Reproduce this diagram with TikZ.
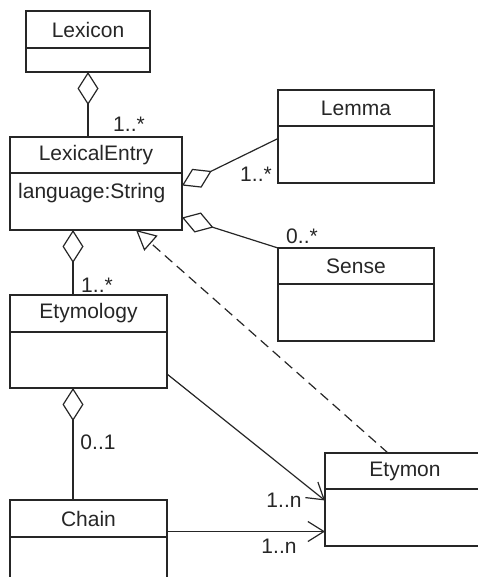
\documentclass[tikz,border=0pt]{standalone}
\usepackage{fontspec}
\setmainfont{Liberation Sans}
\usetikzlibrary{arrows.meta,calc,positioning}
\definecolor{umlgray}{HTML}{262626}

\begin{document}
\begin{tikzpicture}[
        x=1pt, y=-1pt,
        font=\fontsize{21}{25}\selectfont,
        text=umlgray,
        namestyle/.style={draw=umlgray, line width=1.3pt, minimum height=36pt, inner sep=0pt, outer sep=0pt, anchor=north west},
        bodystyle/.style={draw=umlgray, line width=1.3pt, minimum height=57pt, inner sep=0pt, outer sep=0pt},
        multstyle/.style={inner sep=0pt},
        aggstyle/.style={draw=umlgray, line width=1.2pt, {Diamond[open, length=33pt, width=21pt]}-},
        assocstyle/.style={draw=umlgray, line width=1.2pt, -{Straight Barb[length=16pt, width=20pt]}},
        realstyle/.style={draw=umlgray, line width=1.2pt, dash pattern=on 10pt off 6pt, -{Triangle[open, length=20pt, width=20pt]}}
      ]
        \useasboundingbox (0,0) rectangle (477,577);

        % classes
        \node[namestyle, minimum width=124pt, minimum height=37pt] (LEX) at (26,11)
          {Lexicon};
        \node[bodystyle, minimum width=124pt, minimum height=24pt, below=0pt of LEX] (LEXB)
          {};
        \node[namestyle, minimum width=172pt] (LE) at (10,137)
          {LexicalEntry};
        \node[bodystyle, minimum width=172pt, below=0pt of LE] (LEB)
          {};
        \node[anchor=west, inner sep=0pt] (LEATTR)
          at ($(LEB.north west)+(8,20)$)
          {language:String};
        \node[namestyle, minimum width=156pt] (LEM) at (278,90)
          {Lemma};
        \node[bodystyle, minimum width=156pt, below=0pt of LEM] (LEMB)
          {};
        \node[namestyle, minimum width=156pt] (SENSE) at (278,248)
          {Sense};
        \node[bodystyle, minimum width=156pt, below=0pt of SENSE] (SENSEB)
          {};
        \node[namestyle, minimum width=157pt, minimum height=37pt] (ETY) at (10,295)
          {Etymology};
        \node[bodystyle, minimum width=157pt, minimum height=56pt, below=0pt of ETY] (ETYB)
          {};
        \node[namestyle, minimum width=157pt, minimum height=37pt] (CHAIN) at (10,500)
          {Chain};
        \node[bodystyle, minimum width=157pt, below=0pt of CHAIN] (CHAINB)
          {};
        \node[namestyle, minimum width=160pt] (ETM) at (325,453)
          {Etymon};
        \node[bodystyle, minimum width=160pt, below=0pt of ETM] (ETMB)
          {};

        % multiplicities
        \node[multstyle] (M1) at (129,124) {1..*};
        \node[multstyle] (M2) at (256,174) {1..*};
        \node[multstyle] (M3) at (302,236) {0..*};
        \node[multstyle] (M4) at (97,285) {1..*};
        \node[multstyle] (M5) at (98,442) {0..1};
        \node[multstyle] (M6) at (284,500) {1..n};
        \node[multstyle] (M7) at (279,546) {1..n};

        \coordinate (LEAGG) at ($(LEB.south west)+(63,0)$);
        \coordinate (ETYAGG) at ($(ETYB.south west)+(63,0)$);
        \coordinate (CHAINOUT) at ([yshift=-13pt]CHAIN.east);

        \draw[aggstyle] (LEXB.south) -- (LEXB.south |- LE.north);
        \draw[aggstyle] ([yshift=16pt]LEB.east) -- ([yshift=16pt]LEMB.west);
        \draw[aggstyle] ([yshift=-16pt]LEB.east) -- (SENSE.north west);
        \draw[aggstyle] (LEAGG) -- (LEAGG |- ETY.north);
        \draw[aggstyle] (ETYAGG) -- (ETYAGG |- CHAIN.north);
        \draw[assocstyle] ([yshift=-14pt]ETYB.east) -- ([yshift=17pt]ETMB.west);
        \draw[assocstyle] (CHAINOUT) -- (CHAINOUT -| ETMB.west);
        \draw[realstyle] ($(ETM.north west)+(63,0)$) -- ($(LEB.south west)+(126,0)$);
      \end{tikzpicture}
\end{document}
